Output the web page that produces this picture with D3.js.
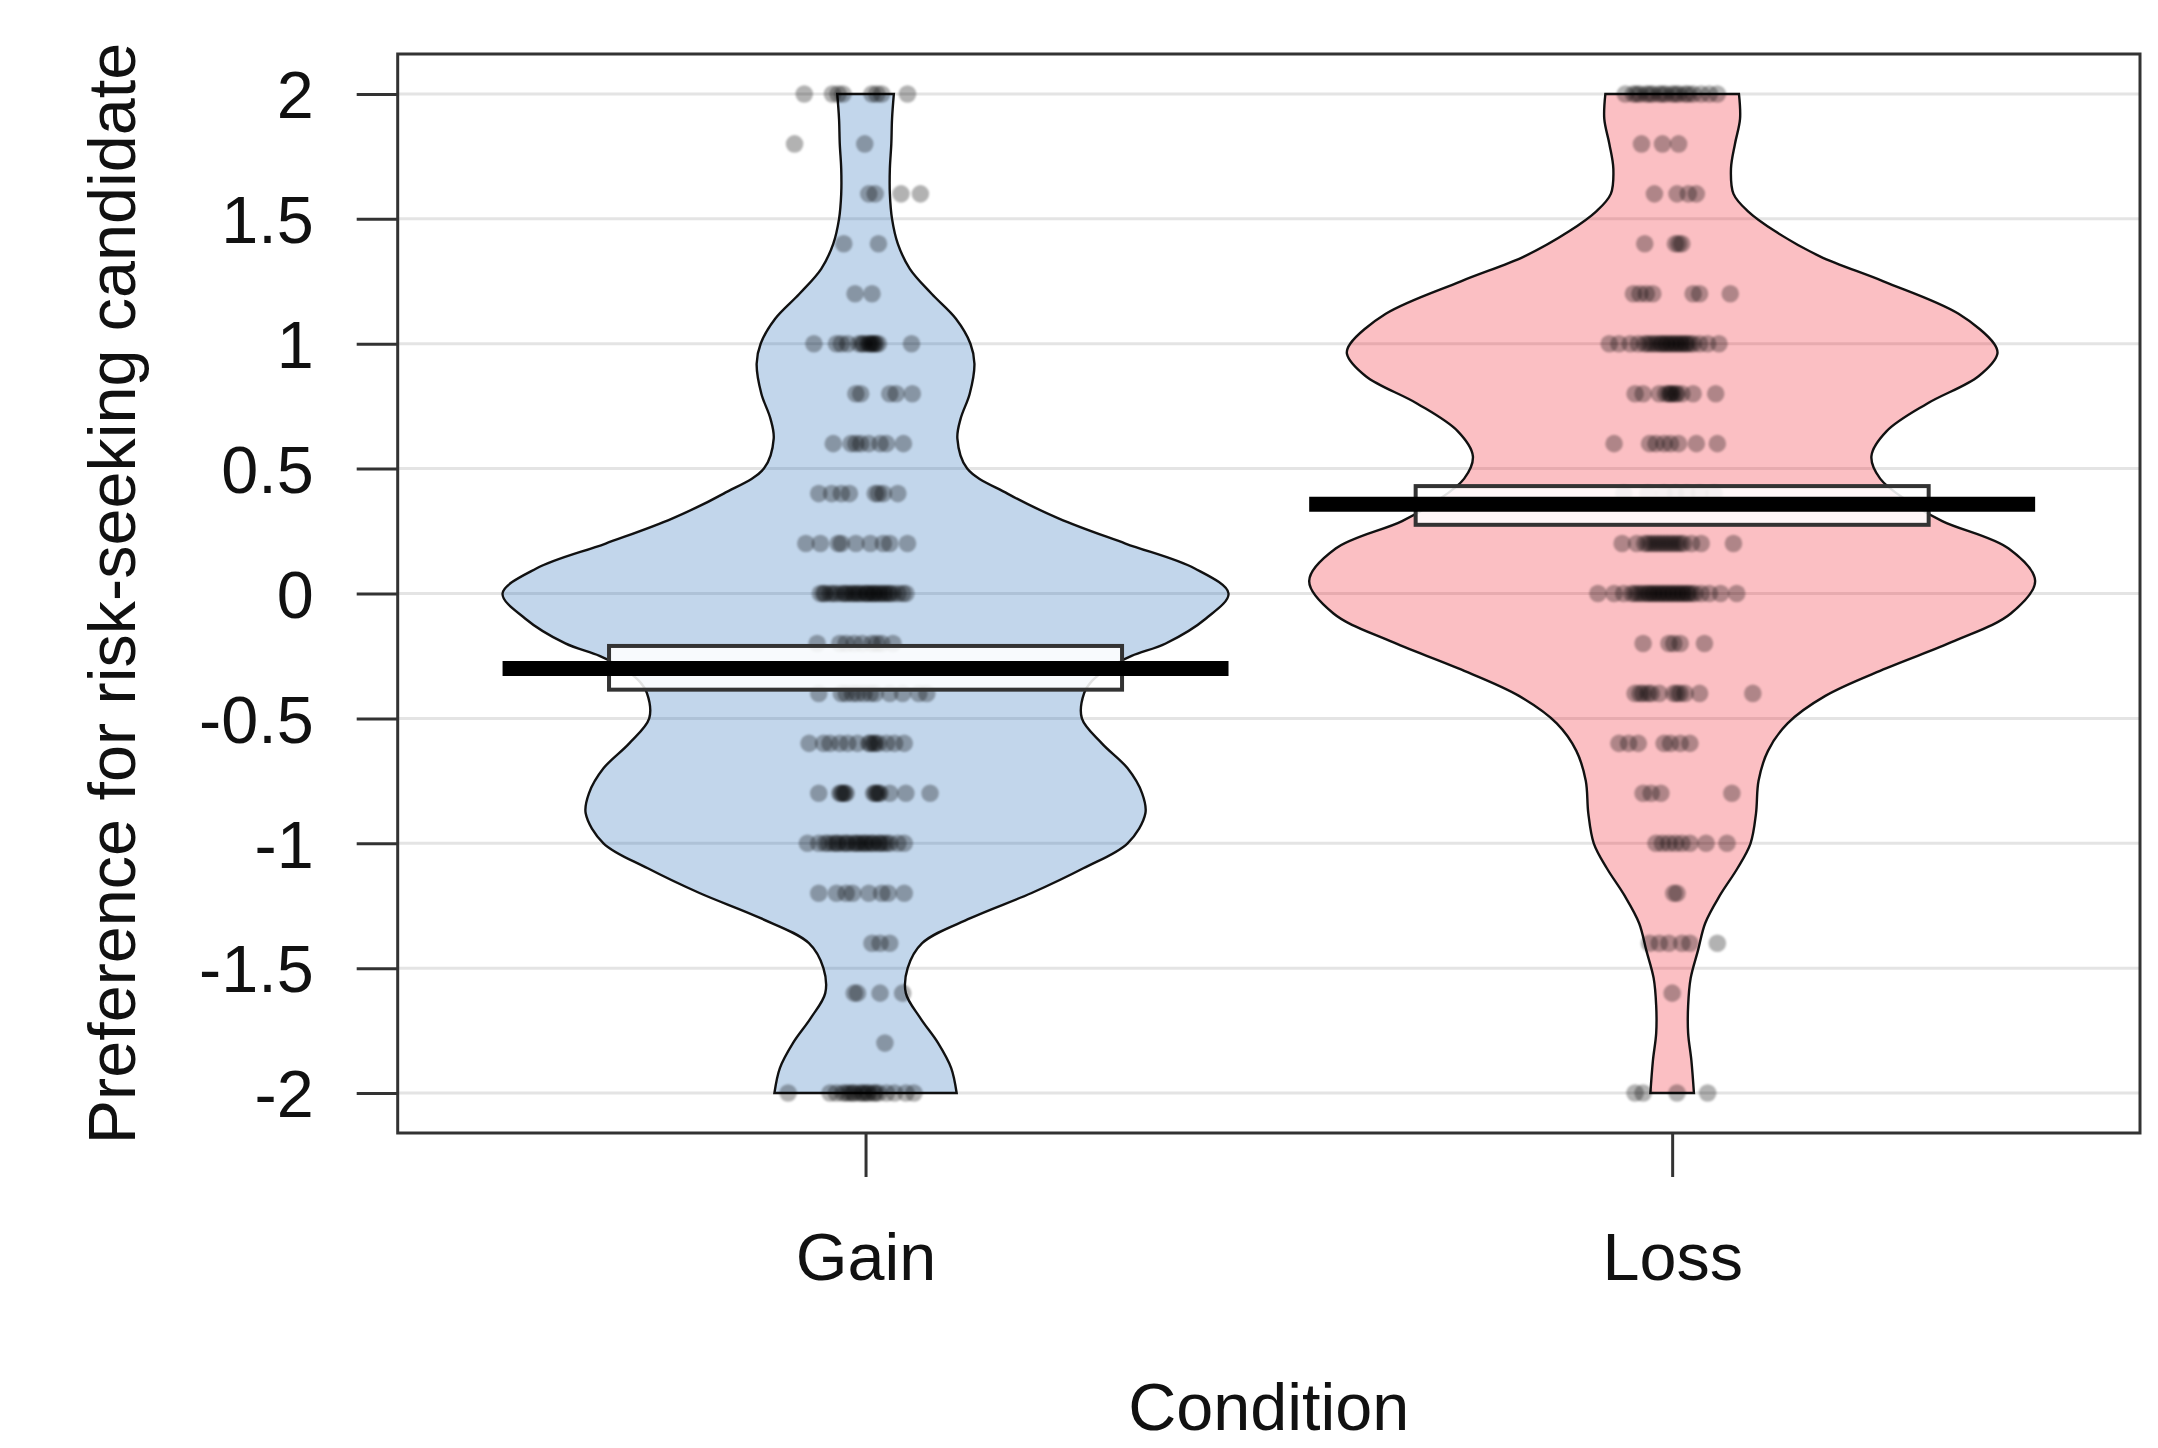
<!DOCTYPE html>
<html>
<head>
<meta charset="utf-8">
<script src="https://cdn.jsdelivr.net/npm/d3@7"></script>
<style>
  html, body { margin: 0; background: #ffffff; }
  svg { display: block; }
  text { font-family: "Liberation Sans", Arial, Helvetica, sans-serif; }
</style>
</head>
<body>
<svg id="chart" width="2158" height="1448"></svg>
<script>
// ---- data -------------------------------------------------------------
const categories = ["Gain", "Loss"];

// response scale levels (top to bottom)
const scoreLevels = [2, 1.8, 1.6, 1.4, 1.2, 1, 0.8, 0.6, 0.4, 0.2, 0,
                     -0.2, -0.4, -0.6, -0.8, -1, -1.2, -1.4, -1.6, -1.8, -2];

// horizontal jitter of every participant, one list per score level
const gainJitter = [
  [-0.076, -0.041, -0.034, -0.028, 0.008, 0.014, 0.020, 0.052],
  [-0.088, -0.001],
  [0.004, 0.012, 0.044, 0.068],
  [-0.027, 0.016],
  [-0.013, 0.008],
  [-0.064, -0.036, -0.030, -0.022, -0.008, -0.004, -0.002, 0.003, 0.005, 0.007, 0.009,
    0.011, 0.013, 0.016, 0.057],
  [-0.012, -0.006, 0.030, 0.038, 0.058],
  [-0.040, -0.018, -0.012, -0.006, 0.004, 0.018, 0.026, 0.047],
  [-0.058, -0.042, -0.030, -0.020, 0.012, 0.016, 0.022, 0.040],
  [-0.074, -0.056, -0.034, -0.030, -0.012, 0.006, 0.022, 0.030, 0.052],
  [-0.056, -0.052, -0.050, -0.044, -0.040, -0.036, -0.030, -0.026, -0.024, -0.020, -0.016,
   -0.014, -0.010, -0.008, -0.004, 0.000, 0.002, 0.004, 0.008, 0.010, 0.012, 0.016, 0.018,
    0.022, 0.024, 0.028, 0.030, 0.034, 0.040, 0.046, 0.050],
  [-0.060, -0.032, -0.024, -0.014, -0.004, 0.008, 0.014, 0.020, 0.034],
  [-0.058, -0.030, -0.024, -0.016, -0.010, -0.002, 0.006, 0.012, 0.030, 0.046, 0.066, 0.076],
  [-0.070, -0.052, -0.044, -0.032, -0.022, -0.010, 0.004, 0.006, 0.010, 0.012, 0.016, 0.026,
    0.036, 0.048],
  [-0.058, -0.032, -0.030, -0.028, -0.026, -0.024, 0.010, 0.012, 0.014, 0.016, 0.018, 0.030,
    0.050, 0.080],
  [-0.072, -0.058, -0.050, -0.046, -0.040, -0.036, -0.034, -0.028, -0.024, -0.022, -0.016,
   -0.012, -0.010, -0.006, -0.002, 0.000, 0.004, 0.008, 0.010, 0.016, 0.018, 0.022, 0.026,
    0.030, 0.040, 0.048],
  [-0.058, -0.036, -0.024, -0.016, 0.004, 0.020, 0.028, 0.048],
  [0.008, 0.018, 0.030],
  [-0.014, -0.010, 0.018, 0.046],
  [0.024],
  [-0.096, -0.044, -0.036, -0.028, -0.024, -0.020, -0.016, -0.014, -0.008, -0.004, -0.002,
    0.002, 0.004, 0.010, 0.012, 0.016, 0.026, 0.036, 0.050, 0.060]
];

const lossJitter = [
  [-0.058, -0.048, -0.044, -0.040, -0.032, -0.028, -0.024, -0.016, -0.012, -0.008, 0.000,
    0.004, 0.008, 0.016, 0.020, 0.026, 0.036, 0.046, 0.056],
  [-0.038, -0.012, 0.008],
  [-0.022, 0.006, 0.020, 0.030],
  [-0.034, 0.004, 0.008, 0.012],
  [-0.048, -0.040, -0.032, -0.024, 0.026, 0.034, 0.072],
  [-0.078, -0.066, -0.052, -0.042, -0.034, -0.030, -0.026, -0.022, -0.018, -0.014, -0.012,
   -0.008, -0.006, -0.002, 0.000, 0.004, 0.006, 0.010, 0.012, 0.016, 0.018, 0.022, 0.026,
    0.034, 0.044, 0.058],
  [-0.046, -0.036, -0.016, -0.008, -0.004, -0.002, 0.000, 0.004, 0.006, 0.012, 0.026, 0.054],
  [-0.072, -0.028, -0.020, -0.010, -0.002, 0.008, 0.030, 0.056],
  [-0.060, -0.030, -0.010, 0.004, 0.018, 0.034, 0.052],
  [-0.062, -0.044, -0.034, -0.030, -0.026, -0.022, -0.018, -0.014, -0.010, -0.006, -0.002,
    0.002, 0.006, 0.010, 0.014, 0.024, 0.036, 0.076],
  [-0.092, -0.072, -0.060, -0.050, -0.046, -0.042, -0.038, -0.034, -0.030, -0.028, -0.024,
   -0.022, -0.018, -0.016, -0.012, -0.010, -0.006, -0.004, 0.000, 0.002, 0.006, 0.008,
    0.012, 0.014, 0.018, 0.020, 0.024, 0.028, 0.036, 0.046, 0.060, 0.080],
  [-0.036, -0.004, 0.002, 0.010, 0.040],
  [-0.046, -0.040, -0.036, -0.030, -0.026, -0.016, 0.002, 0.006, 0.010, 0.016, 0.034, 0.100],
  [-0.066, -0.054, -0.042, -0.010, -0.002, 0.010, 0.022],
  [-0.036, -0.026, -0.014, 0.074],
  [-0.020, -0.012, -0.004, 0.004, 0.012, 0.022, 0.042, 0.068],
  [0.002, 0.006],
  [-0.028, -0.016, -0.004, 0.012, 0.022, 0.056],
  [0.000],
  [],
  [-0.046, -0.036, 0.006, 0.044]
];

// smoothed density of each condition (relative to its peak), truncated at the data range
const gainBeanY = [2, 1.9, 1.8, 1.7, 1.6, 1.5, 1.4, 1.3, 1.2, 1.1, 1, 0.92, 0.8, 0.7, 0.62,
                   0.5, 0.4, 0.3, 0.2, 0.1, 0, -0.1, -0.2, -0.25, -0.3, -0.35, -0.4, -0.5,
                   -0.6, -0.7, -0.8, -0.88, -1, -1.1, -1.2, -1.3, -1.4, -1.5, -1.6, -1.7,
                   -1.8, -1.9, -2];
const gainBeanDensity = [0.078, 0.073, 0.071, 0.067, 0.067, 0.073, 0.089, 0.122, 0.182, 0.249,
                         0.289, 0.300, 0.287, 0.262, 0.253, 0.280, 0.391, 0.533, 0.716, 0.907,
                         1.000, 0.938, 0.827, 0.733, 0.667, 0.624, 0.602, 0.596, 0.651, 0.722,
                         0.762, 0.771, 0.722, 0.600, 0.456, 0.289, 0.156, 0.116, 0.111, 0.151,
                         0.200, 0.236, 0.251];

const lossBeanY = [2, 1.9, 1.8, 1.7, 1.6, 1.53, 1.45, 1.35, 1.25, 1.12, 1, 0.96, 0.87, 0.76,
                   0.65, 0.55, 0.46, 0.37, 0.29, 0.18, 0.05, -0.08, -0.19, -0.3, -0.41, -0.52,
                   -0.63, -0.75, -0.88, -1, -1.1, -1.21, -1.32, -1.43, -1.54, -1.65, -1.76,
                   -1.87, -2];
const lossBeanDensity = [0.184, 0.187, 0.173, 0.162, 0.169, 0.209, 0.284, 0.407, 0.582, 0.789,
                         0.887, 0.896, 0.844, 0.702, 0.591, 0.549, 0.573, 0.649, 0.744, 0.927,
                         1.000, 0.933, 0.778, 0.589, 0.422, 0.318, 0.264, 0.238, 0.231, 0.216,
                         0.180, 0.131, 0.091, 0.071, 0.051, 0.044, 0.044, 0.053, 0.060];

// condition means and their inference intervals
const groupMeans = [-0.30, 0.357];
const ciLow = [-0.385, 0.275];
const ciHigh = [-0.21, 0.43];

const yTicks = [-2, -1.5, -1, -0.5, 0, 0.5, 1, 1.5, 2];
const yTickLabels = ["-2", "-1.5", "-1", "-0.5", "0", "0.5", "1", "1.5", "2"];
const yTitle = "Preference for risk-seeking candidate";
const xTitle = "Condition";

// ---- layout -------------------------------------------------------------
const plot = { left: 397.7, right: 2140, top: 54, bottom: 1133 };
const beanMax = 0.45;   // half-width of widest bean, in category units
const barHalf = 0.45;   // half-width of mean line
const bandHalf = 0.318; // half-width of inference band
const palette = ["#0C5BB0", "#EE0011"];
const fontSize = 66.5;

const svg = d3.select("#chart");

// soft edge for the raw data points
svg.append("defs").append("filter")
  .attr("id", "soft")
  .attr("x", "-50%").attr("y", "-50%").attr("width", "200%").attr("height", "200%")
  .append("feGaussianBlur").attr("stdDeviation", 1.3);

const x = d3.scaleLinear().domain([0.42, 2.58]).range([plot.left, plot.right]);
const y = d3.scaleLinear().domain([-2.16, 2.16]).range([plot.bottom, plot.top]);

// background gridlines
svg.append("g")
  .selectAll("line")
  .data(yTicks)
  .join("line")
  .attr("x1", plot.left).attr("x2", plot.right)
  .attr("y1", d => y(d)).attr("y2", d => y(d))
  .attr("stroke", "#e4e4e4")
  .attr("stroke-width", 3);

const groups = [
  { name: categories[0], pos: 1, jitter: gainJitter, beanY: gainBeanY, dens: gainBeanDensity,
    mean: groupMeans[0], lo: ciLow[0], hi: ciHigh[0], color: palette[0] },
  { name: categories[1], pos: 2, jitter: lossJitter, beanY: lossBeanY, dens: lossBeanDensity,
    mean: groupMeans[1], lo: ciLow[1], hi: ciHigh[1], color: palette[1] }
];

// beans
groups.forEach(g => {
  const pts = g.beanY.map((v, i) => ({ v, w: g.dens[i] }));
  const area = d3.area()
    .curve(d3.curveCatmullRom.alpha(0.5))
    .y(d => y(d.v))
    .x0(d => x(g.pos - d.w * beanMax))
    .x1(d => x(g.pos + d.w * beanMax));
  svg.append("path")
    .attr("d", area(pts))
    .attr("fill", g.color)
    .attr("fill-opacity", 0.25)
    .attr("stroke", "#111")
    .attr("stroke-width", 2.4);
});

// raw data points
groups.forEach(g => {
  const obs = [];
  scoreLevels.forEach((lv, i) => g.jitter[i].forEach(j => obs.push({ v: lv, j })));
  svg.append("g")
    .attr("filter", "url(#soft)")
    .selectAll("circle")
    .data(obs)
    .join("circle")
    .attr("cx", d => x(g.pos + d.j))
    .attr("cy", d => y(d.v))
    .attr("r", 8.8)
    .attr("fill", "#000")
    .attr("fill-opacity", 0.3);
});

// inference bands and mean lines
groups.forEach(g => {
  svg.append("rect")
    .attr("x", x(g.pos - bandHalf))
    .attr("y", y(g.hi))
    .attr("width", x(g.pos + bandHalf) - x(g.pos - bandHalf))
    .attr("height", y(g.lo) - y(g.hi))
    .attr("fill", "#fff")
    .attr("fill-opacity", 0.88)
    .attr("stroke", "#333")
    .attr("stroke-width", 4);
  svg.append("line")
    .attr("x1", x(g.pos - barHalf)).attr("x2", x(g.pos + barHalf))
    .attr("y1", y(g.mean)).attr("y2", y(g.mean))
    .attr("stroke", "#000")
    .attr("stroke-width", 15);
});

// frame
svg.append("rect")
  .attr("x", plot.left).attr("y", plot.top)
  .attr("width", plot.right - plot.left).attr("height", plot.bottom - plot.top)
  .attr("fill", "none")
  .attr("stroke", "#333")
  .attr("stroke-width", 3);

// y axis
const yAxis = svg.append("g")
  .attr("transform", `translate(${plot.left},0)`)
  .call(d3.axisLeft(y).tickValues(yTicks)
    .tickFormat((d, i) => yTickLabels[i])
    .tickSize(41).tickPadding(43));
yAxis.select(".domain").remove();
yAxis.selectAll(".tick line").attr("stroke", "#333").attr("stroke-width", 3);
yAxis.selectAll(".tick text")
  .attr("font-size", fontSize)
  .attr("font-family", "Liberation Sans, Arial, sans-serif")
  .attr("fill", "#111")
  .attr("dy", "0.358em");

// x axis
const xAxis = svg.append("g")
  .attr("transform", `translate(0,${plot.bottom})`)
  .call(d3.axisBottom(x).tickValues([1, 2])
    .tickFormat(d => categories[d - 1])
    .tickSize(44));
xAxis.select(".domain").remove();
xAxis.selectAll(".tick line").attr("stroke", "#333").attr("stroke-width", 3);
xAxis.selectAll(".tick text")
  .attr("font-size", fontSize)
  .attr("font-family", "Liberation Sans, Arial, sans-serif")
  .attr("fill", "#111")
  .attr("y", 147)
  .attr("dy", 0);

// axis titles
svg.append("text")
  .attr("transform", `translate(135,${(plot.top + plot.bottom) / 2}) rotate(-90)`)
  .attr("text-anchor", "middle")
  .attr("font-size", fontSize)
  .attr("fill", "#111")
  .text(yTitle);

svg.append("text")
  .attr("x", (plot.left + plot.right) / 2)
  .attr("y", 1430)
  .attr("text-anchor", "middle")
  .attr("font-size", fontSize)
  .attr("fill", "#111")
  .text(xTitle);
</script>
</body>
</html>
